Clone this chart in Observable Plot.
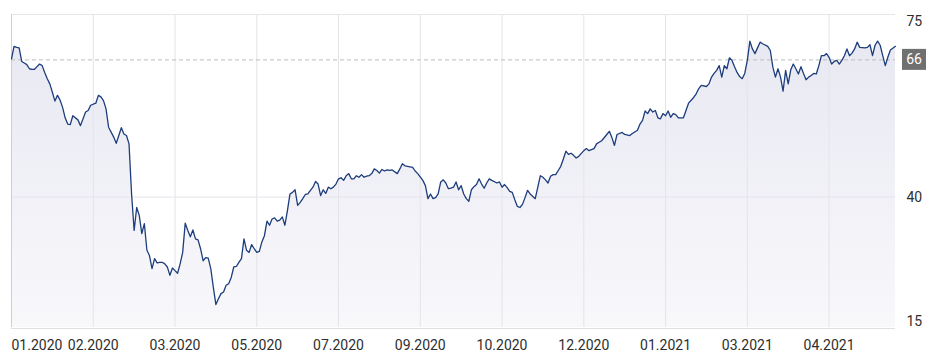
<!DOCTYPE html>
<html>
<head>
<meta charset="utf-8">
<script src="https://cdn.jsdelivr.net/npm/d3@7"></script>
<script src="https://cdn.jsdelivr.net/npm/@observablehq/plot@0.6"></script>
<style>
  html, body { margin: 0; padding: 0; background: #fff; }
  #chart svg { display: block; font-family: Roboto, "Noto Sans", sans-serif; }
</style>
</head>
<body>
<div id="chart"></div>
<script>
// trading-day index of each reading
const days = [0,1,2,3,4,5,6,7,8,9,10,11,12,13,14,15,16,17,18,19,20,21,22,23,24,26,27,29,30,31,33,34,35,36,37,38,40,41,42,43,44,45,46,47,48,49,50,51,52,53,54,55,56,57,58,59,60,61,62,63,64,65,66,67,68,69,70,71,72,73,74,75,76,77,78,79,80,81,82,83,84,85,86,87,88,89,90,91,92,93,94,95,96,97,98,99,100,101,102,103,104,105,106,107,108,109,110,111,112,113,114,115,116,117,118,119,120,121,122,123,124,125,126,127,128,129,130,131,132,133,134,135,136,137,138,139,140,141,142,143,144,145,146,147,148,149,151,152,153,154,155,157,158,159,161,162,163,164,165,166,167,168,169,170,171,172,173,174,175,176,177,178,179,180,181,182,183,184,185,186,187,188,190,191,192,193,194,195,196,197,198,199,200,201,202,203,205,206,207,208,209,210,211,212,213,214,215,216,217,218,219,220,221,222,224,225,226,228,229,230,231,233,234,235,236,237,239,240,242,243,245,246,247,248,249,250,251,252,253,254,255,256,257,258,259,260,261,263,264,265,267,268,269,270,272,273,274,275,276,277,278,279,280,281,282,283,284,285,286,287,288,289,290,291,292,293,294,296,297,298,299,300,301,302,303,304,305,306,307,308,309,310,311,312,313,314,315,316,317,318,319,320,321,322,323,324,325,326,327,328,329,330,331,332,334,335,336,337,338,339,340,341,342,343,344,346];
const prices = [66.5,68.9,68.7,68.6,66.0,65.7,65.4,64.6,64.5,64.5,65.0,65.5,65.2,63.9,62.7,61.7,60.1,58.4,59.5,58.6,57.2,55.2,54.0,53.9,55.6,54.8,53.7,56.3,56.6,57.6,58.0,59.5,59.2,58.5,56.9,53.4,51.5,50.3,51.8,53.3,52.1,51.8,50.2,40.6,33.6,38.0,36.5,33.0,34.9,29.8,28.8,26.3,28.2,27.4,27.5,27.5,27.2,26.6,25.0,26.4,25.9,25.4,27.2,29.4,35.0,33.6,32.4,33.7,32.0,31.8,30.1,27.8,28.4,28.3,26.3,22.7,19.4,20.5,21.5,21.8,23.1,23.4,24.6,26.6,26.7,27.5,28.2,32.0,29.8,29.4,30.9,30.1,29.4,29.6,31.4,32.6,35.4,34.6,35.8,36.0,35.4,35.6,36.2,34.6,37.4,40.6,40.9,41.4,38.4,39.0,39.7,40.5,40.6,41.3,41.9,43.0,42.5,40.3,41.4,40.7,41.9,41.6,41.9,42.5,43.5,43.7,43.2,44.1,44.5,43.5,43.5,44.1,43.8,44.3,43.8,44.0,44.1,44.5,45.4,45.1,44.6,45.3,45.0,45.2,45.1,45.2,44.5,45.4,46.4,46.0,45.9,45.7,45.0,44.5,43.2,42.2,39.7,40.6,39.7,39.9,40.6,42.9,43.3,42.7,41.6,41.7,41.9,42.9,41.4,42.2,40.6,39.7,39.2,41.4,42.0,42.4,43.5,42.5,41.7,42.7,43.5,43.2,42.7,42.9,41.9,42.4,41.8,41.1,40.9,39.5,38.2,38.0,38.6,39.9,41.3,40.6,39.7,41.9,44.1,43.8,43.3,42.7,44.0,44.3,44.3,45.1,45.9,47.3,48.8,48.2,48.4,48.0,47.5,47.8,48.9,49.3,48.9,49.3,50.2,50.5,50.8,52.0,52.6,51.4,49.9,52.0,52.4,52.0,51.8,52.2,52.8,54.0,54.7,56.5,56.0,56.9,56.3,56.6,55.2,55.0,56.0,55.6,56.5,55.3,56.0,55.8,55.2,55.2,56.6,58.0,59.1,59.8,60.8,61.4,61.2,61.7,63.0,63.7,64.3,65.2,63.0,65.2,64.6,66.7,66.2,65.0,63.9,63.1,62.7,63.7,66.2,69.9,68.4,67.5,68.6,69.7,69.4,68.9,68.1,64.9,63.0,64.6,63.0,60.3,64.3,61.7,64.4,65.5,64.6,63.6,65.0,63.7,62.5,63.0,63.3,63.7,63.6,65.2,67.1,67.1,67.5,66.8,65.5,66.0,66.2,65.5,66.2,67.1,68.4,67.1,67.6,68.4,69.7,68.7,68.6,68.7,69.2,67.1,69.1,69.9,69.1,67.1,65.2,66.8,68.2,68.9];

// x-axis ticks (trading-day index) and labels
const tickDays = [0,32,64,96,128,160,192,224,256,288,320];
const tickLabels = ["01.2020","02.2020","03.2020","05.2020","07.2020","09.2020","10.2020","12.2020","01.2021","03.2021","04.2021"];
// y-axis ticks
const yTicks = [15, 40, 75];
// reference level
const refValue = 66.3;
const refLabel = "66";

const data = days.map((d, i) => ({day: d, value: prices[i]}));
const xTicks = tickDays.map((d, i) => ({day: d, label: tickLabels[i], first: i === 0}));

const plot = Plot.plot({
  width: 935,
  height: 361,
  marginTop: 14,
  marginBottom: 34,
  marginLeft: 11,
  marginRight: 40,
  style: {fontFamily: "Roboto, 'Noto Sans', sans-serif", background: "#fff"},
  x: {domain: [0, 346], axis: null},
  y: {domain: [15, 75], axis: null},
  marks: [
    Plot.areaY(data, {x: "day", y1: 15, y2: "value", fill: "url(#areaGrad)", curve: "linear"}),
    Plot.ruleX(tickDays.slice(1), {stroke: "#e4e4e8", strokeWidth: 1}),
    Plot.ruleY([40], {stroke: "#e4e4ec", strokeWidth: 1}),
    Plot.ruleY([75], {stroke: "#e6e6e6", strokeWidth: 1}),
    Plot.ruleY([15], {stroke: "#e0e0e0", strokeWidth: 1, dy: 1}),
    Plot.ruleX([0], {stroke: "#cfcfcf", strokeWidth: 1}),
    Plot.ruleY([refValue], {stroke: "#bdbdbd", strokeWidth: 1, strokeDasharray: "4,3"}),
    Plot.lineY(data, {x: "day", y: "value", stroke: "#1d3d7c", strokeWidth: 1.3}),
    Plot.text(xTicks.filter(d => d.first), {x: "day", text: "label", frameAnchor: "bottom", dy: 22, textAnchor: "start", fontSize: 14, fill: "#2e2e2e"}),
    Plot.text(xTicks.filter(d => !d.first), {x: "day", text: "label", frameAnchor: "bottom", dy: 22, textAnchor: "middle", fontSize: 14, fill: "#2e2e2e"}),
    Plot.text(yTicks, {y: d => d, text: d => String(d), frameAnchor: "right", dx: 11, textAnchor: "start", fontSize: 14, fill: "#2e2e2e"}),
  ]
});

// nudge the extreme y labels inward like the original
d3.select(plot).selectAll("text").each(function() {
  const t = this.textContent;
  if (t === "75") d3.select(this).attr("transform", (d3.select(this).attr("transform") || "") + " translate(0,7)");
  if (t === "15") d3.select(this).attr("transform", (d3.select(this).attr("transform") || "") + " translate(0,-6)");
});

const ys = plot.scale("y");
const xs = plot.scale("x");
const svg = d3.select(plot);
const defs = svg.insert("defs", ":first-child");
const grad = defs.append("linearGradient")
  .attr("id", "areaGrad")
  .attr("gradientUnits", "userSpaceOnUse")
  .attr("x1", 0).attr("x2", 0)
  .attr("y1", ys.apply(75)).attr("y2", ys.apply(15));
grad.append("stop").attr("offset", "0%").attr("stop-color", "#1a1a80").attr("stop-opacity", 0.105);
grad.append("stop").attr("offset", "100%").attr("stop-color", "#1a1a80").attr("stop-opacity", 0.03);

// reference value badge on the right
const ry = ys.apply(refValue);
const rx = xs.apply(346) + 7;
const badge = svg.append("g");
badge.append("rect").attr("x", rx).attr("y", ry - 10.5).attr("width", 24).attr("height", 21).attr("fill", "#707070");
badge.append("text").attr("x", rx + 12).attr("y", ry).attr("dy", "0.35em").attr("text-anchor", "middle")
  .attr("fill", "#fff").attr("font-size", 14).text(refLabel);

document.getElementById("chart").appendChild(plot);
</script>
</body>
</html>
